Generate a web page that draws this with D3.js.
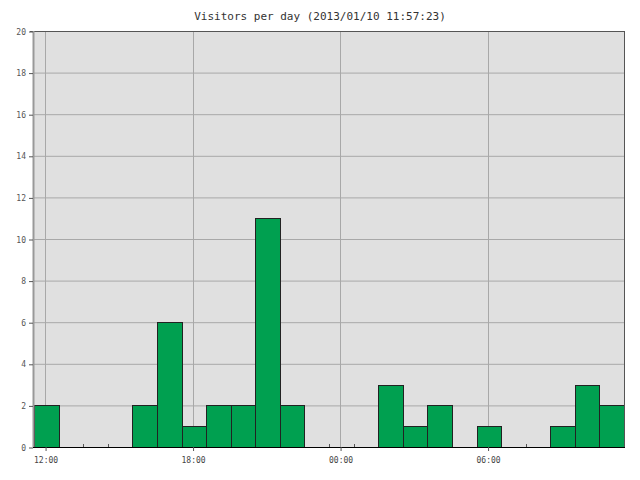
<!DOCTYPE html>
<html><head><meta charset="utf-8">
<script src="https://cdn.jsdelivr.net/npm/d3@7"></script>
<style>body{margin:0;background:#fff}svg{display:block}</style>
</head><body>
<svg id="c" width="640" height="480"></svg>
<script>
const title = "Visitors per day (2013/01/10 11:57:23)";
// hourly bins, starting at bin start time
const binStartHour = 11, binStartMinute = 33;
const visitors = [2,0,0,0,2,6,1,2,2,11,2,0,0,0,3,1,2,0,1,0,0,1,3,2];
const yTicks = [0,2,4,6,8,10,12,14,16,18,20];
const xTickLabels = ["12:00","18:00","00:00","06:00"];

const svg = d3.select("#c");
const L=34, R=624, T=31, B=447;
const t0 = new Date(2013,0,9,binStartHour,binStartMinute);
const t1 = d3.timeHour.offset(t0, visitors.length);
const x = d3.scaleTime().domain([t0,t1]).range([L,R]);
const y = d3.scaleLinear().domain([0,20]).range([B,T]);
const bins = visitors.map((v,i)=>({s:d3.timeHour.offset(t0,i), e:d3.timeHour.offset(t0,i+1), v}));
const majorTimes = [new Date(2013,0,9,12),new Date(2013,0,9,18),new Date(2013,0,10,0),new Date(2013,0,10,6)];

svg.append("text").attr("x",320).attr("y",20).attr("text-anchor","middle")
  .attr("font-family","DejaVu Sans Mono").attr("font-size",11).attr("fill","#333").text(title);

svg.append("rect").attr("x",L).attr("y",T).attr("width",R-L).attr("height",B-T).attr("fill","#e0e0e0");

// horizontal grid
svg.append("g").selectAll("line").data(yTicks.slice(1,-1)).join("line")
  .attr("x1",L).attr("x2",R).attr("y1",d=>y(d)+0.5).attr("y2",d=>y(d)+0.5)
  .attr("stroke","#a8a8a8").attr("stroke-width",1);
// vertical grid
svg.append("g").selectAll("line").data(majorTimes).join("line")
  .attr("x1",d=>Math.round(x(d))+0.5).attr("x2",d=>Math.round(x(d))+0.5).attr("y1",T).attr("y2",B)
  .attr("stroke","#a8a8a8").attr("stroke-width",1);

// minor ticks at bin edges
svg.append("g").selectAll("line").data(bins.slice(1)).join("line")
  .attr("x1",d=>Math.round(x(d.s))+0.5).attr("x2",d=>Math.round(x(d.s))+0.5).attr("y1",B-3).attr("y2",B)
  .attr("stroke","#555");

// bars
svg.append("g").selectAll("rect").data(bins.filter(d=>d.v>0)).join("rect")
  .attr("x",d=>Math.round(x(d.s))+0.5).attr("width",d=>Math.round(x(d.e))-Math.round(x(d.s)))
  .attr("y",d=>Math.round(y(d.v))+0.5).attr("height",d=>B-Math.round(y(d.v)))
  .attr("fill","#00a050").attr("stroke","#222").attr("stroke-width",1);

// borders
svg.append("line").attr("x1",L-4).attr("x2",R+0.5).attr("y1",T+0.5).attr("y2",T+0.5).attr("stroke","#555");
svg.append("line").attr("x1",R+0.5).attr("x2",R+0.5).attr("y1",T).attr("y2",B).attr("stroke","#555");
svg.append("line").attr("x1",L-0.5).attr("x2",L-0.5).attr("y1",T).attr("y2",B).attr("stroke","#999").attr("stroke-width",2);
svg.append("line").attr("x1",L-1).attr("x2",R+1).attr("y1",B+0.5).attr("y2",B+0.5).attr("stroke","#000");

// y axis
const yAxis = d3.axisLeft(y).tickValues(yTicks).tickSize(4).tickPadding(3);
const gy = svg.append("g").attr("transform",`translate(${L-1},0.5)`).call(yAxis);
gy.select(".domain").remove();
gy.selectAll("line").attr("stroke","#555");
gy.selectAll("text").attr("font-family","DejaVu Sans Mono").attr("font-size",8).attr("fill","#555");

// x axis
const xAxis = d3.axisBottom(x).tickValues(majorTimes).tickFormat((d,i)=>xTickLabels[i]).tickSize(4).tickPadding(6);
const gx = svg.append("g").attr("transform",`translate(0.5,${B})`).call(xAxis);
gx.select(".domain").remove();
gx.selectAll("line").attr("stroke","#555");
gx.selectAll("text").attr("font-family","DejaVu Sans Mono").attr("font-size",8).attr("fill","#444");
</script>
</body></html>
